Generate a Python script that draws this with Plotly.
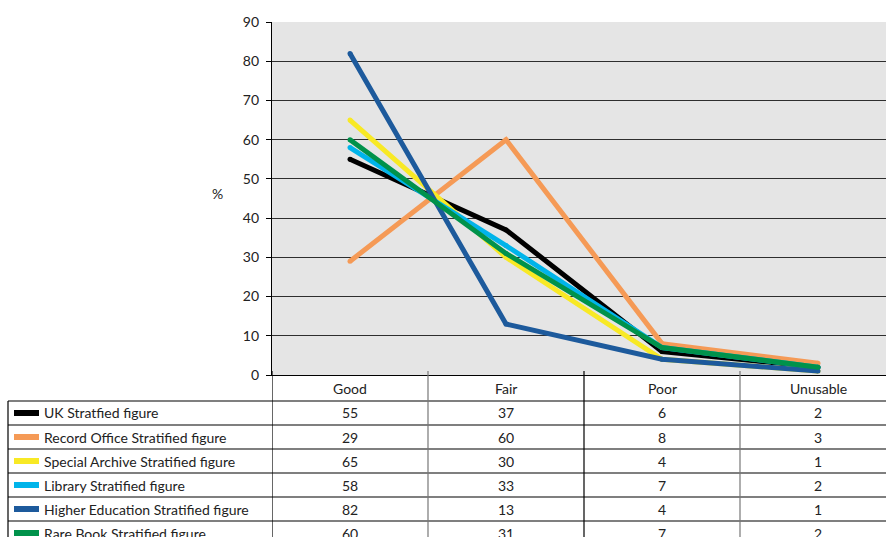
import plotly.graph_objects as go

# Condition categories and percentage by stratum
categories = ["Good", "Fair", "Poor", "Unusable"]
series_names = [
    "UK Stratfied figure",
    "Record Office Stratified figure",
    "Special Archive Stratified figure",
    "Library Stratified figure",
    "Higher Education Stratified figure",
    "Rare Book Stratified figure",
]
uk = [55, 37, 6, 2]
record_office = [29, 60, 8, 3]
special_archive = [65, 30, 4, 1]
library = [58, 33, 7, 2]
higher_education = [82, 13, 4, 1]
rare_book = [60, 31, 7, 2]
series_values = [uk, record_office, special_archive, library, higher_education, rare_book]
colors = ["#000000", "#f59a56", "#f8e925", "#00b4ea", "#1d5a9c", "#00924b"]

W, H = 886, 537
L, T, B = 272, 22, 375  # plot area edges in pixels
PW, PH = W - L, B - T
FONT = "Lato"
TXT = "#222"


def px(x):
    return (x - L) / PW


def py(y):
    return (B - y) / PH


fig = go.Figure()
idx = list(range(len(categories)))
for name, vals, col in zip(series_names, series_values, colors):
    fig.add_trace(go.Scatter(
        x=idx, y=vals, mode="lines+markers", name=name,
        line=dict(color=col, width=5),
        marker=dict(color=col, size=5, line=dict(width=0)),
        showlegend=False, cliponaxis=False,
    ))

shapes = []
annotations = []

# header row: category names
for k, c in enumerate(categories):
    annotations.append(dict(x=k, y=py(388), xref="x", yref="paper", text=c,
                            showarrow=False, font=dict(size=14, color=TXT, family=FONT),
                            xanchor="center", yanchor="middle"))

# table rows with legend swatches
row_top = 401
row_h = 24
for i, (name, vals, col) in enumerate(zip(series_names, series_values, colors)):
    yc = row_top + row_h * i + 12
    shapes.append(dict(type="line", xref="paper", yref="paper",
                       x0=px(14), x1=px(39), y0=py(yc), y1=py(yc),
                       line=dict(color=col, width=6)))
    annotations.append(dict(x=px(42), y=py(yc), xref="paper", yref="paper", text=name,
                            showarrow=False, font=dict(size=14, color=TXT, family=FONT),
                            xanchor="left", yanchor="middle"))
    for k, v in enumerate(vals):
        annotations.append(dict(x=k, y=py(yc), xref="x", yref="paper", text=str(v),
                                showarrow=False, font=dict(size=14, color=TXT, family=FONT),
                                xanchor="center", yanchor="middle"))

# table grid: horizontal rules
for i in range(len(series_names) + 1):
    y = row_top + row_h * i
    shapes.append(dict(type="line", xref="paper", yref="paper",
                       x0=px(8), x1=1, y0=py(y), y1=py(y),
                       line=dict(color="#000", width=1.2)))
# vertical rules
shapes.append(dict(type="line", xref="paper", yref="paper", x0=px(8), x1=px(8),
                   y0=py(row_top), y1=py(H + 5), line=dict(color="#000", width=1.2)))
for k, colr in zip(range(4), ["#000", "#777", "#000", "#777"]):
    xb = k - 0.5
    shapes.append(dict(type="line", xref="x", yref="paper", x0=xb, x1=xb,
                       y0=py(B - 4), y1=py(H + 5), line=dict(color=colr, width=1.2)))

# y-axis title
annotations.append(dict(x=px(217), y=py(193), xref="paper", yref="paper", text="%",
                        showarrow=False, font=dict(size=14, color=TXT, family=FONT),
                        xanchor="center", yanchor="middle"))

fig.update_layout(
    width=W, height=H,
    margin=dict(l=L, r=0, t=T, b=H - B, pad=0),
    paper_bgcolor="white", plot_bgcolor="#e5e5e5",
    font=dict(family=FONT, size=14, color=TXT),
    shapes=shapes, annotations=annotations,
    xaxis=dict(range=[-0.5, -0.5 + PW / 156.0], showgrid=False, zeroline=False,
               showticklabels=False, ticks="", showline=True, linecolor="#000", linewidth=1.2,
               fixedrange=True),
    yaxis=dict(range=[0, 90], dtick=10, showgrid=True, gridcolor="#2e2e2e", gridwidth=1,
               zeroline=False, showline=True, linecolor="#000", linewidth=1.2,
               ticks="outside", ticklen=5, tickcolor="#000", ticklabelstandoff=4,
               tickfont=dict(size=14, color=TXT, family=FONT), fixedrange=True),
)

fig.write_html("out.html")
